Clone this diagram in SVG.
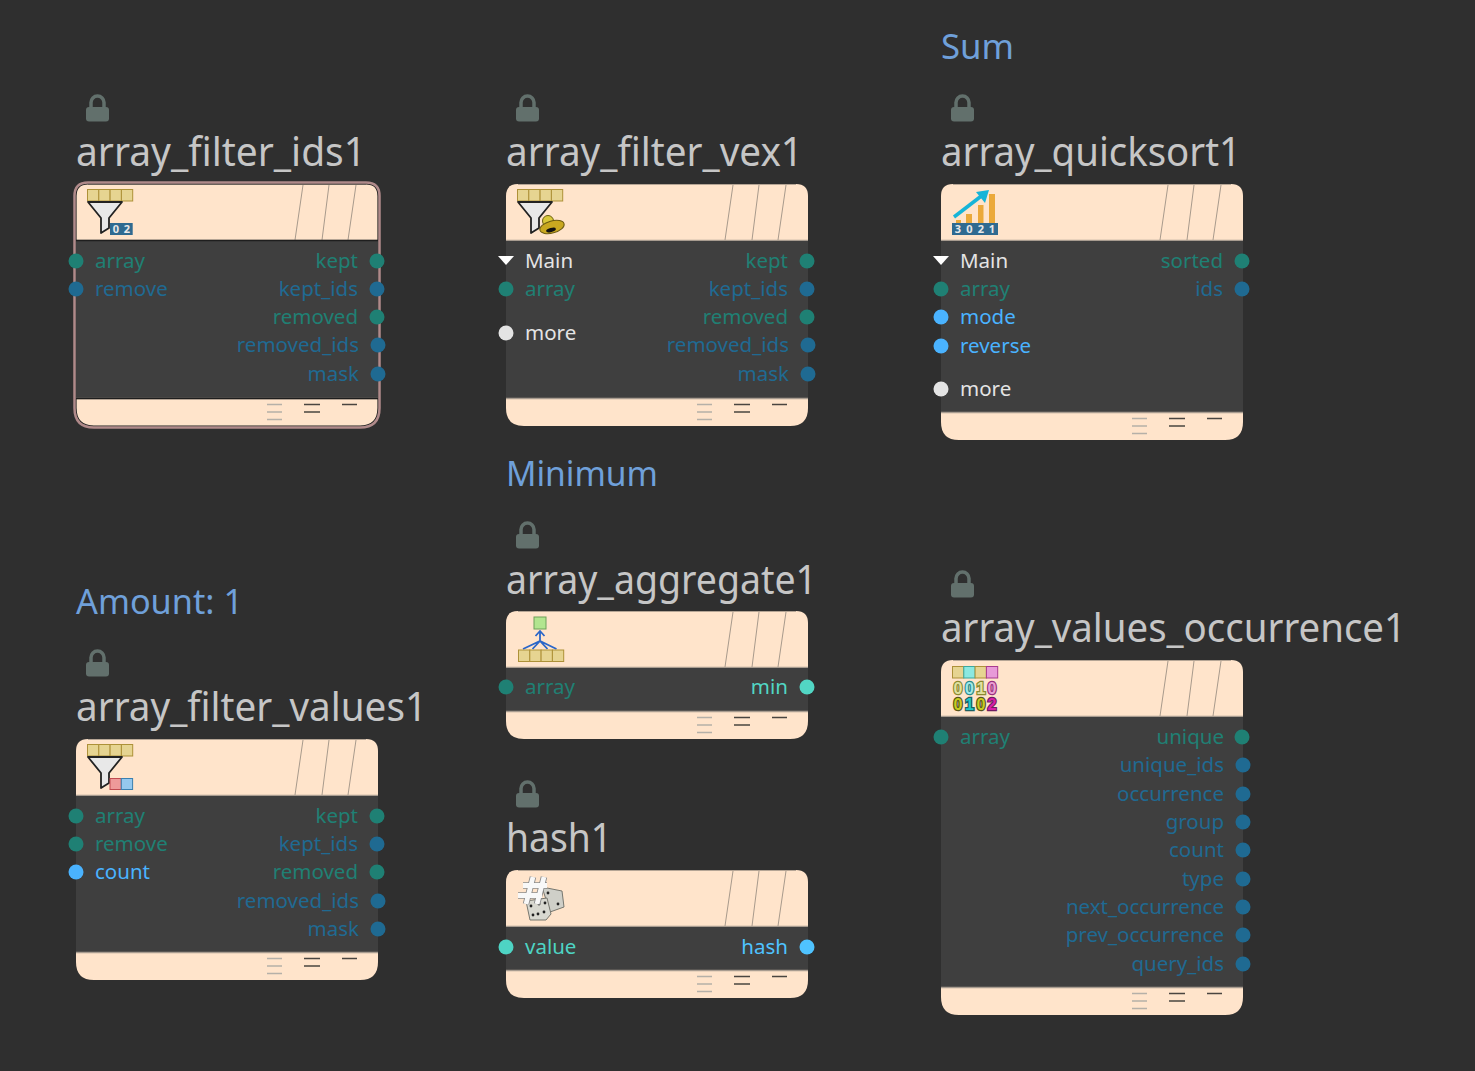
<svg xmlns="http://www.w3.org/2000/svg" width="1475" height="1071" viewBox="0 0 1475 1071">
<style>
text{font-family:"Noto Sans","Open Sans","Liberation Sans",sans-serif}
.title{font-size:40px;fill:#c6c6c6}
.note{font-size:34px;fill:#6fa0da}
.p{font-size:20.500px}
.r{text-anchor:end}
.t{fill:#1f8074}.b{fill:#1f6a92}.c{fill:#4ab3ff}.w{fill:#e4e4e4}.a{fill:#4ed4c4}
.body{fill:#3f3f3f}
.cell{fill:#e6d491;stroke:#ad9138;stroke-width:1}
.d{font-size:11px;fill:#e8e8e8;text-anchor:middle;font-weight:700}
.n{font-family:"Liberation Sans",sans-serif;font-size:16px;font-weight:700;text-anchor:middle;stroke-width:2.400;paint-order:stroke}
</style>
<defs>
<g id="lock"><rect x="0" y="12" width="23" height="14.500" rx="3" fill="#62706c"/><path d="M5,13V7.500A6.500,6.500 0 0 1 18,7.500V13" fill="none" stroke="#62706c" stroke-width="3.500"/></g>
<g id="hdr"><path d="M0,57V12Q0,0 12,0H290Q302,0 302,12V57Z" fill="#ffe4cb"/><path d="M12,.5H290" stroke="#b5a595" stroke-width="1"/><path d="M219,56L227,1M246,56L253,1M272,56L280,1" stroke="#a89a8c" stroke-width="1" fill="none"/><path d="M0,56.500H302" stroke="#a89c90" stroke-width="1.500"/></g>
<g id="ftr"><path d="M0,0H302V10Q302,28 284,28H18Q0,28 0,10Z" fill="#ffe4cb"/><path d="M0,.5H302" stroke="#a89c90" stroke-width="1.500"/><path d="M191,6.500H206M191,14H206M191,21.500H206" stroke="#b5b0a8" stroke-width="1.500"/><path d="M228,6.500H244M228,14H244M266,6.500H281" stroke="#4a4540" stroke-width="1.500"/></g>
<g id="cells"><rect class="cell" x="11.500" y="5.500" width="11.300" height="11.500"/><rect class="cell" x="22.800" y="5.500" width="11.300" height="11.500"/><rect class="cell" x="34.100" y="5.500" width="11.300" height="11.500"/><rect class="cell" x="45.400" y="5.500" width="11.300" height="11.500"/></g>
<path id="funnel" d="M12,18H46L33,34V44L25,49V34Z" fill="#e8e8e8" stroke="#222" stroke-width="1.800" stroke-linejoin="round"/>
</defs>
<rect width="1475" height="1071" fill="#2f2f2f"/>

<g id="node-array_filter_ids1" transform="translate(76,184)">
<use href="#lock" x="10" y="-89"/>
<text class="title" x="0" y="-18" textLength="290" lengthAdjust="spacingAndGlyphs">array_filter_ids1</text>
<use href="#hdr"/>
<rect class="body" y="57" width="302" height="157"/>
<use href="#ftr" y="214"/>
<path d="M0,56.500H302M0,214.500H302" stroke="#1e1e1e" stroke-width="1.500"/>
<path d="M0,56V12Q0,0 12,0H290Q302,0 302,12V56M0,215V224Q0,242 18,242H284Q302,242 302,224V215" fill="none" stroke="#222" stroke-width="1.200"/>
<path d="M-1.500,56V12Q-1.500,-1.500 12,-1.500H290Q303.500,-1.500 303.500,12V224Q303.500,243.500 284,243.500H18Q-1.500,243.500 -1.500,224Z" fill="none" stroke="#b08a8a" stroke-width="2.500"/>
<use href="#cells"/><use href="#funnel"/>
<rect x="34" y="39" width="22.700" height="12" fill="#2f6a90"/><text class="d" x="40" y="49">0</text><text class="d" x="51" y="49">2</text>
<circle cx="0" cy="77" r="7.500" class="t"/><text class="p t" x="19" y="84">array</text>
<circle cx="0" cy="105" r="7.500" class="b"/><text class="p b" x="19" y="112">remove</text>
<text class="p t r" x="282" y="84">kept</text><circle cx="301" cy="77" r="7.500" class="t"/>
<text class="p b r" x="282" y="112">kept_ids</text><circle cx="301" cy="105" r="7.500" class="b"/>
<text class="p t r" x="282" y="140">removed</text><circle cx="301" cy="133" r="7.500" class="t"/>
<text class="p b r" x="283" y="168">removed_ids</text><circle cx="302" cy="161" r="7.500" class="b"/>
<text class="p b r" x="283" y="197">mask</text><circle cx="302" cy="190" r="7.500" class="b"/>
</g>

<g id="node-array_filter_vex1" transform="translate(506,184)">
<use href="#lock" x="10" y="-89"/>
<text class="title" x="0" y="-18" textLength="297" lengthAdjust="spacingAndGlyphs">array_filter_vex1</text>
<use href="#hdr"/>
<rect class="body" y="57" width="302" height="157"/>
<use href="#ftr" y="214"/>
<use href="#cells"/><use href="#funnel"/>
<circle cx="42" cy="37" r="5.500" fill="#d8c83a" stroke="#6b6010" stroke-width="1"/>
<ellipse cx="46" cy="43" rx="12.500" ry="6" transform="rotate(-15 46 43)" fill="#c9a820" stroke="#6b5a10" stroke-width="1"/>
<ellipse cx="45" cy="46" rx="5" ry="2" transform="rotate(-15 45 46)" fill="#111"/>
<path d="M-8,72H8L0,81Z" fill="#fff"/><text class="p w" x="19" y="84">Main</text>
<circle cx="0" cy="105" r="7.500" class="t"/><text class="p t" x="19" y="112">array</text>
<circle cx="0" cy="149" r="7.500" class="w"/><text class="p w" x="19" y="156">more</text>
<text class="p t r" x="282" y="84">kept</text><circle cx="301" cy="77" r="7.500" class="t"/>
<text class="p b r" x="282" y="112">kept_ids</text><circle cx="301" cy="105" r="7.500" class="b"/>
<text class="p t r" x="282" y="140">removed</text><circle cx="301" cy="133" r="7.500" class="t"/>
<text class="p b r" x="283" y="168">removed_ids</text><circle cx="302" cy="161" r="7.500" class="b"/>
<text class="p b r" x="283" y="197">mask</text><circle cx="302" cy="190" r="7.500" class="b"/>
</g>

<g id="node-array_quicksort1" transform="translate(941,184)">
<text class="note" x="0" y="-125" textLength="73" lengthAdjust="spacingAndGlyphs">Sum</text>
<use href="#lock" x="10" y="-89"/>
<text class="title" x="0" y="-18" textLength="300" lengthAdjust="spacingAndGlyphs">array_quicksort1</text>
<use href="#hdr"/>
<rect class="body" y="57" width="302" height="171"/>
<use href="#ftr" y="228"/>
<path d="M15,36h5v3h-5zM25,30h6v9h-6zM37,21h5.500v18h-5.500zM48,10h6v29h-6z" fill="#eba93a"/>
<path d="M13,33L41,11.500" stroke="#16b4d8" stroke-width="3.500"/><path d="M48,6L35,8L44,19Z" fill="#16b4d8"/>
<rect x="11" y="39" width="46" height="12" fill="#2f6a90"/>
<text class="d" x="17" y="49">3</text><text class="d" x="28.500" y="49">0</text><text class="d" x="40" y="49">2</text><text class="d" x="51" y="49">1</text>
<path d="M-8,72H8L0,81Z" fill="#fff"/><text class="p w" x="19" y="84">Main</text>
<circle cx="0" cy="105" r="7.500" class="t"/><text class="p t" x="19" y="112">array</text>
<circle cx="0" cy="133" r="7.500" class="c"/><text class="p c" x="19" y="140">mode</text>
<circle cx="0" cy="162" r="7.500" class="c"/><text class="p c" x="19" y="169">reverse</text>
<circle cx="0" cy="205" r="7.500" class="w"/><text class="p w" x="19" y="212">more</text>
<text class="p t r" x="282" y="84">sorted</text><circle cx="301" cy="77" r="7.500" class="t"/>
<text class="p b r" x="282" y="112">ids</text><circle cx="301" cy="105" r="7.500" class="b"/>
</g>

<g id="node-array_aggregate1" transform="translate(506,611)">
<text class="note" x="0" y="-125" textLength="152" lengthAdjust="spacingAndGlyphs">Minimum</text>
<use href="#lock" x="10" y="-89"/>
<text class="title" x="0" y="-17" textLength="311" lengthAdjust="spacingAndGlyphs">array_aggregate1</text>
<use href="#hdr"/>
<rect class="body" y="57" width="302" height="43"/>
<use href="#ftr" y="100"/>
<rect x="28" y="6" width="12" height="12" fill="#b2e58f" stroke="#6ea05a" stroke-width="1"/>
<path d="M34,20V30M29.500,25L34,20L38.500,25M17,38L34,30L50.500,38M26.500,38L34,30L41.500,38" fill="none" stroke="#2a66c8" stroke-width="1.800"/>
<g transform="translate(1,33.500)"><use href="#cells"/></g>
<circle cx="0" cy="76" r="7.500" class="t"/><text class="p t" x="19" y="83">array</text>
<text class="p r" x="282" y="83" fill="#52d6c4">min</text><circle cx="301" cy="76" r="7.500" fill="#52d6c4"/>
</g>

<g id="node-hash1" transform="translate(506,870)">
<use href="#lock" x="10" y="-89"/>
<text class="title" x="0" y="-18" textLength="106" lengthAdjust="spacingAndGlyphs">hash1</text>
<use href="#hdr"/>
<rect class="body" y="57" width="302" height="43"/>
<use href="#ftr" y="100"/>
<path d="M36,17L56,21L58,37L44,42Z" fill="#cfcfc8" stroke="#77776f" stroke-width="1" stroke-linejoin="round"/>
<path d="M20,31L41,28L45,44L40,50L24,50Z" fill="#d8d8d0" stroke="#77776f" stroke-width="1" stroke-linejoin="round"/>
<g fill="#222"><circle cx="52" cy="34" r="1.400"/><circle cx="42" cy="23" r="1.400"/><circle cx="25" cy="36" r="1.400"/><circle cx="33" cy="34" r="1.400"/><circle cx="39" cy="33" r="1.400"/><circle cx="27" cy="45" r="1.400"/><circle cx="32" cy="44" r="1.400"/><circle cx="38" cy="42" r="1.400"/></g>
<path d="M20,34L27,7M31,34L38,7M17,15.500H41M12,25.500H36" fill="none" stroke="#8a8a8a" stroke-width="6.500"/>
<path d="M20,34L27,7M31,34L38,7M17,15.500H41M12,25.500H36" fill="none" stroke="#f8f8f8" stroke-width="4.800"/>
<circle cx="0" cy="77" r="7.500" class="a"/><text class="p a" x="19" y="84">value</text>
<text class="p r" x="282" y="84" fill="#4fc3ff">hash</text><circle cx="301" cy="77" r="7.500" fill="#4fc3ff"/>
</g>

<g id="node-array_filter_values1" transform="translate(76,739)">
<text class="note" x="0" y="-125" textLength="167" lengthAdjust="spacingAndGlyphs">Amount: 1</text>
<use href="#lock" x="10" y="-89"/>
<text class="title" x="0" y="-18" textLength="351" lengthAdjust="spacingAndGlyphs">array_filter_values1</text>
<use href="#hdr"/>
<rect class="body" y="57" width="302" height="156"/>
<use href="#ftr" y="213"/>
<use href="#cells"/><use href="#funnel"/>
<rect x="34" y="39.500" width="11.300" height="11" fill="#ee9a9a" stroke="#c04a50" stroke-width="1"/>
<rect x="45.300" y="39.500" width="11.300" height="11" fill="#95c8ee" stroke="#3a80b0" stroke-width="1"/>
<circle cx="0" cy="77" r="7.500" class="t"/><text class="p t" x="19" y="84">array</text>
<circle cx="0" cy="105" r="7.500" class="t"/><text class="p t" x="19" y="112">remove</text>
<circle cx="0" cy="133" r="7.500" class="c"/><text class="p c" x="19" y="140">count</text>
<text class="p t r" x="282" y="84">kept</text><circle cx="301" cy="77" r="7.500" class="t"/>
<text class="p b r" x="282" y="112">kept_ids</text><circle cx="301" cy="105" r="7.500" class="b"/>
<text class="p t r" x="282" y="140">removed</text><circle cx="301" cy="133" r="7.500" class="t"/>
<text class="p b r" x="283" y="169">removed_ids</text><circle cx="302" cy="162" r="7.500" class="b"/>
<text class="p b r" x="283" y="197">mask</text><circle cx="302" cy="190" r="7.500" class="b"/>
</g>

<g id="node-array_values_occurrence1" transform="translate(941,660)">
<use href="#lock" x="10" y="-89"/>
<text class="title" x="0" y="-18" textLength="465" lengthAdjust="spacingAndGlyphs">array_values_occurrence1</text>
<use href="#hdr"/>
<rect class="body" y="57" width="302" height="270"/>
<use href="#ftr" y="327"/>
<rect x="11.500" y="6.500" width="11.300" height="11.500" fill="#e6d491" stroke="#ad9138"/>
<rect x="22.800" y="6.500" width="11.300" height="11.500" fill="#8ce8e0" stroke="#3aa8a0"/>
<rect x="34.100" y="6.500" width="11.300" height="11.500" fill="#e6d491" stroke="#ad9138"/>
<rect x="45.400" y="6.500" width="11.300" height="11.500" fill="#e89ad8" stroke="#a83a90"/>
<g stroke="#8a8a30"><text class="n" x="17" y="33.500" fill="#e0e0a0">0</text><text class="n" x="28.500" y="33.500" fill="#a0e8e8" stroke="#2a8a8a">0</text><text class="n" x="40" y="33.500" fill="#e0e0a0">1</text><text class="n" x="51" y="33.500" fill="#e8a0d4" stroke="#98307e">0</text>
<text class="n" x="17" y="50" fill="#c8cc20" stroke="#55551c">0</text><text class="n" x="28.500" y="50" fill="#20c8c8" stroke="#1c6060">1</text><text class="n" x="40" y="50" fill="#c8cc20" stroke="#55551c">0</text><text class="n" x="51" y="50" fill="#d820a8" stroke="#701c60">2</text></g>
<circle cx="0" cy="77" r="7.500" class="t"/><text class="p t" x="19" y="84">array</text>
<text class="p t r" x="283" y="84">unique</text><circle cx="301" cy="77" r="7.500" class="t"/>
<text class="p b r" x="283" y="112">unique_ids</text><circle cx="302" cy="105" r="7.500" class="b"/>
<text class="p b r" x="283" y="141">occurrence</text><circle cx="302" cy="134" r="7.500" class="b"/>
<text class="p b r" x="283" y="169">group</text><circle cx="302" cy="162" r="7.500" class="b"/>
<text class="p b r" x="283" y="197">count</text><circle cx="302" cy="190" r="7.500" class="b"/>
<text class="p b r" x="283" y="226">type</text><circle cx="302" cy="219" r="7.500" class="b"/>
<text class="p b r" x="283" y="254">next_occurrence</text><circle cx="302" cy="247" r="7.500" class="b"/>
<text class="p b r" x="283" y="282">prev_occurrence</text><circle cx="302" cy="275" r="7.500" class="b"/>
<text class="p b r" x="283" y="311">query_ids</text><circle cx="302" cy="304" r="7.500" class="b"/>
</g>
</svg>
